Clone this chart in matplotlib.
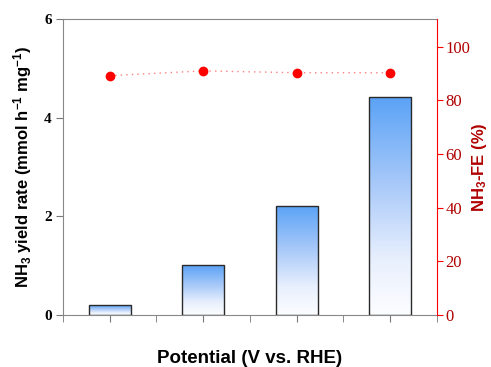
import numpy as np
import matplotlib.pyplot as plt
from matplotlib.colors import LinearSegmentedColormap

plt.rcParams['font.family'] = ['Liberation Sans', 'DejaVu Sans']
plt.rcParams['font.weight'] = 'bold'
plt.rcParams['axes.labelweight'] = 'bold'
plt.rcParams['mathtext.fontset'] = 'custom'
plt.rcParams['mathtext.rm'] = 'Liberation Sans:bold'
plt.rcParams['mathtext.default'] = 'rm'

# donnees
positions = [1, 2, 3, 4]
yield_rate = [0.20, 1.01, 2.22, 4.43]
fe = [89.2, 91.0, 90.3, 90.3]

fig = plt.figure(figsize=(4.91, 3.67), dpi=100)
ax = fig.add_axes([0.128, 0.1417, 0.762, 0.8063])

cmap = LinearSegmentedColormap.from_list(
    "bleu", [(0, "#fcfdff"), (0.25, "#e9f0fd"), (0.6, "#a8c9f9"), (1, "#5aa2f6")])
grad = np.linspace(0, 1, 256).reshape(-1, 1)

bars = ax.bar(positions, yield_rate, width=0.45, facecolor='none',
              edgecolor='#2a2a2a', linewidth=1.0, zorder=3)
for b in bars:
    x0, y0 = b.get_x(), b.get_y()
    im = ax.imshow(grad, cmap=cmap, origin='lower', aspect='auto',
                   extent=[x0, x0 + b.get_width(), y0, y0 + b.get_height()], zorder=2)
    im.set_clip_path(b)

ax.set_xlim(0.5, 4.5)
ax.set_ylim(0, 6)
ax.set_yticks([0, 2, 4, 6])
ax.set_xticks(positions)
ax.set_xticks([0.5, 1.5, 2.5, 3.5, 4.5], minor=True)
ax.tick_params(axis='x', which='both', length=5, color='#777777', labelbottom=False)
ax.tick_params(axis='y', length=5, color='#777777', pad=3)
for lab in ax.get_yticklabels():
    lab.set_fontfamily('Liberation Serif')
    lab.set_fontweight('bold')
    lab.set_fontsize(11)
for s in ['left', 'bottom', 'top']:
    ax.spines[s].set_color('#888888')
ax.spines['right'].set_visible(False)
ax.set_xlabel("Potential (V vs. RHE)", fontsize=13.5, fontweight='bold', labelpad=20)
ax.set_ylabel("NH$_3$ yield rate (mmol h$^{-1}$ mg$^{-1}$)", fontsize=12,
              fontweight='bold', labelpad=7)

ax2 = ax.twinx()
ax2.plot(positions, fe, linestyle=(0, (1, 3)), color='#ff8080', linewidth=1.0, zorder=4)
ax2.plot(positions, fe, 'o', color='red', markersize=6, zorder=5)
ax2.set_ylim(0, 110.3)
ax2.set_yticks([0, 20, 40, 60, 80, 100])
ax2.tick_params(axis='y', length=4, color='red', labelcolor='#b00000', pad=2)
for lab in ax2.get_yticklabels():
    lab.set_fontfamily('Liberation Serif')
    lab.set_fontweight('normal')
    lab.set_fontsize(12)
ax2.spines['right'].set_color('red')
for s in ['left', 'bottom', 'top']:
    ax2.spines[s].set_visible(False)
ax2.set_ylabel("NH$_3$-FE (%)", fontsize=12, fontweight='bold', color='#b00000', labelpad=0)

fig.savefig("out.png", dpi=100)
